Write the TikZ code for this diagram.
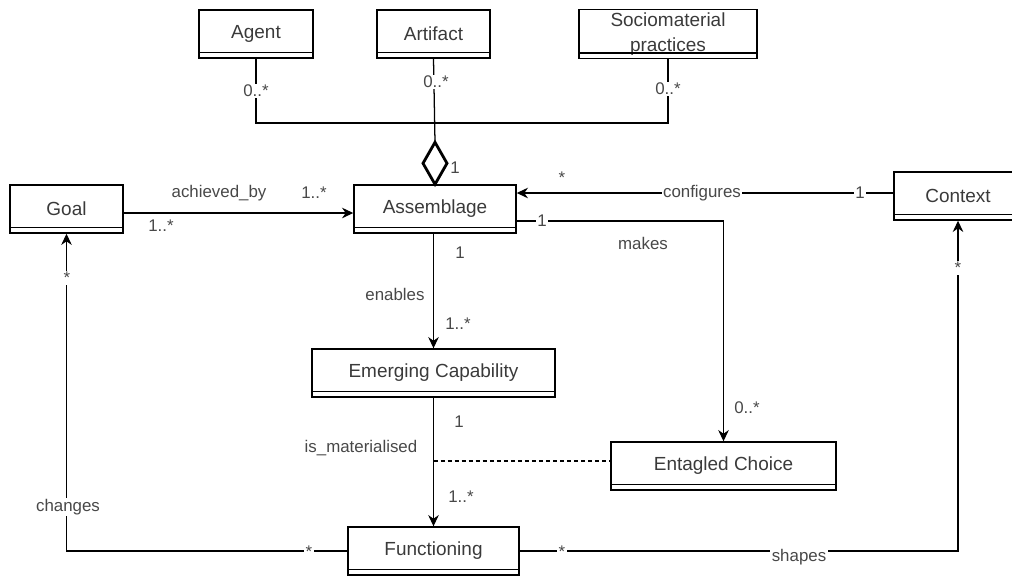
\documentclass[tikz,border=0pt]{standalone}
\usepackage{fontspec}
\setmainfont{Liberation Sans}
\usetikzlibrary{arrows.meta}
\definecolor{boxtext}{HTML}{3A3A3A}
\definecolor{labeltext}{HTML}{484848}
\tikzset{
	classbox/.style={draw, line width=1pt, minimum height=1.2cm, inner sep=2pt, align=center, font=\fontsize{13.5}{18}\selectfont, text=boxtext},
	assoc/.style={line width=0.9pt, -{Stealth[length=8pt,width=7.5pt]}},
	link/.style={line width=0.9pt},
	lbl/.style={font=\fontsize{12}{14}\selectfont, text=labeltext, inner sep=1pt},
	onlink/.style={lbl, fill=white},
}

\begin{document}
\begin{tikzpicture}[x=0.025cm,y=-0.025cm]
	\useasboundingbox (0,0) rectangle (1012,575);
	% classes
	\node[classbox,minimum width=2.85cm] (agent) at (256,34) {Agent};
	\node[classbox,minimum width=2.825cm] (artifact) at (433.5,34) {Artifact};
	\node[classbox,minimum width=4.45cm] (socio) at (668,34) {Sociomaterial\\practices};
	\node[classbox,minimum width=2.825cm] (goal) at (66.5,209) {Goal};
	\node[classbox,minimum width=4.05cm] (assemblage) at (435,209) {Assemblage};
	\node[classbox,minimum width=3.2cm] (context) at (958,196) {Context};
	\node[classbox,minimum width=6.075cm] (emerging) at (433.5,373) {Emerging Capability};
	\node[classbox,minimum width=5.625cm] (choice) at (723.5,466) {Entagled Choice};
	\node[classbox,minimum width=4.275cm] (functioning) at (433.5,551) {Functioning};
	\foreach \c in {agent,artifact,socio,goal,assemblage,context,emerging,choice,functioning}
		\draw[line width=1pt] ([yshift=0.15cm]\c.south west) -- ([yshift=0.15cm]\c.south east);
	
	% aggregation
	\draw[line width=2pt,line join=miter] (assemblage.north) -- ++(-12,-21) -- ++(12,-21) coordinate (dtop) -- ++(12,21) -- cycle;
	\coordinate (bus) at (433.5,123);
	\draw[link] (agent.south) |- (bus) -| (socio.south);
	\draw[link] (artifact.south) -- (dtop);
	
	% associations
	\draw[assoc] ([yshift=-0.1cm]goal.east) -- ([yshift=-0.1cm]assemblage.west);
	\draw[assoc] ([yshift=0.075cm]context.west) -- ([yshift=0.075cm]context.west -| assemblage.east);
	\draw[assoc] ([yshift=-0.3cm]assemblage.east) -| (choice.north);
	\draw[assoc] (emerging.north |- assemblage.south) -- (emerging.north);
	\draw[assoc] (emerging.south) -- (functioning.north);
	\draw[link,dashed,dash pattern=on 3pt off 2pt] ([yshift=0.125cm]emerging.south |- choice.west) -- ([yshift=0.125cm]choice.west);
	\draw[assoc] (functioning.west) -| (goal.south);
	\draw[assoc] (functioning.east) -| (context.south);
	
	% labels
	\node[onlink] (mAgent) at (256,91) {0..*};
	\node[onlink] (mArtifact) at (436,82) {0..*};
	\node[onlink] (mSocio) at (668,89) {0..*};
	\node[lbl] (mAggr) at (455,168) {1};
	\node[lbl] (lAchieved) at (219,193) {achieved\_by};
	\node[lbl] (mAchievedA) at (314,193) {1..*};
	\node[lbl] (mAchievedB) at (161,226) {1..*};
	\node[lbl] (mConfA) at (562,178) {*};
	\node[onlink] (lConf) at (702,193) {configures};
	\node[onlink] (mConfB) at (860,193) {1};
	\node[onlink] (mMakesA) at (542,221) {1};
	\node[lbl] (lMakes) at (643,243) {makes};
	\node[lbl] (mMakesB) at (747,408) {0..*};
	\node[lbl] (mEnablesA) at (460,253) {1};
	\node[lbl] (lEnables) at (395,294) {enables};
	\node[lbl] (mEnablesB) at (458,324) {1..*};
	\node[lbl] (mMatA) at (459,422) {1};
	\node[lbl] (lMat) at (361,448) {is\_materialised};
	\node[lbl] (mMatB) at (461,497) {1..*};
	\node[onlink] (mGoal) at (67,278) {*};
	\node[onlink] (lChanges) at (68,507) {changes};
	\node[onlink] (mChanges) at (309,552) {*};
	\node[onlink] (mContext) at (958,268) {*};
	\node[onlink] (mShapes) at (562,552) {*};
	\node[onlink] (lShapes) at (799,557) {shapes};
\end{tikzpicture}
\end{document}
